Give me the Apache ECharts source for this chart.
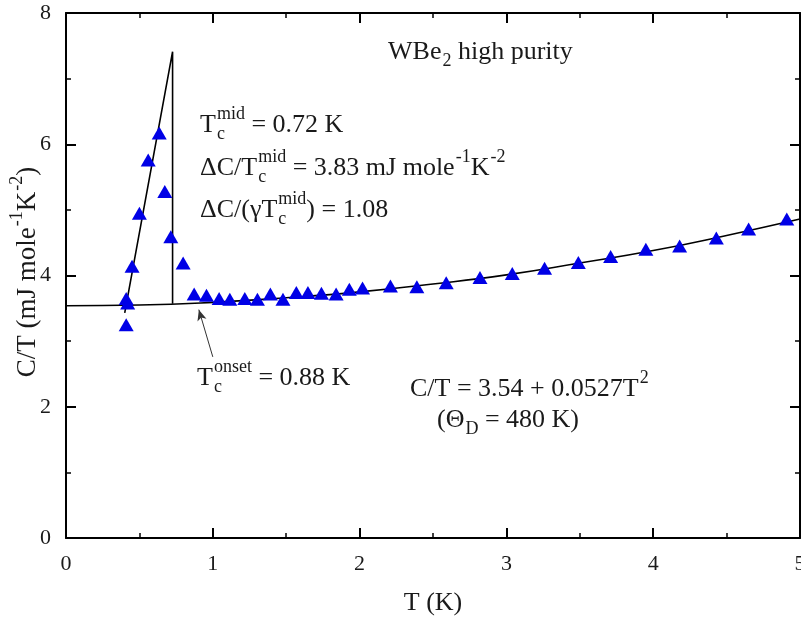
<!DOCTYPE html>
<html><head><meta charset="utf-8">
<script src="https://cdn.jsdelivr.net/npm/echarts@6/dist/echarts.min.js"></script>
<style>html,body{margin:0;padding:0;background:#fff}#c{width:801px;height:619px}</style>
</head><body><div id="c"></div>
<script>
// measured data (T in K, C/T in mJ mole^-1 K^-2)
const T_data = [0.41,0.41,0.42,0.45,0.50,0.56,0.635,0.673,0.714,0.798,0.873,0.957,1.043,1.116,1.218,1.304,1.392,1.478,1.569,1.648,1.74,1.84,1.93,2.02,2.21,2.39,2.59,2.82,3.04,3.26,3.49,3.71,3.95,4.18,4.43,4.65,4.91];
const C_data = [3.25,3.65,3.58,4.14,4.95,5.76,6.17,5.28,4.59,4.19,3.72,3.70,3.65,3.64,3.65,3.64,3.72,3.64,3.74,3.74,3.73,3.72,3.79,3.81,3.84,3.83,3.89,3.97,4.03,4.11,4.20,4.29,4.40,4.45,4.57,4.71,4.86];
// fitted curve
const fitT = [0,0.5,1,1.5,2,2.5,3,3.5,4,4.5,5];
const fitC = [3.54,3.55,3.59,3.66,3.75,3.87,4.01,4.19,4.38,4.61,4.86];
// entropy-conserving construction
const tcT = [0.40,0.726,0.726];
const tcC = [3.43,7.41,3.57];
// onset arrow
const arrowFrom = [1.0,2.76];
const arrowTo = [0.905,3.48];
const xTicks = ['0','1','2','3','4','5'];
const yTicks = ['0','2','4','6','8'];

const FONT = '"Liberation Serif", "Times New Roman", serif';
const COL = '#1a1a1a';
const cv = document.createElement('canvas').getContext('2d');
function tw(t, fs){ cv.font = fs + 'px ' + FONT; return cv.measureText(t).width; }
function mk(t, px, py, size){
  return {type:'text', x:px, y:py, silent:true,
    style:{text:t, font:size + 'px ' + FONT, fill:COL, align:'left', verticalAlign:'middle'}};
}
function richGroup(parts, x, y, fs, ss, opt){
  let cx = 0; const ch = [];
  for (const p of parts){
    if (p.n !== undefined){ ch.push(mk(p.n, cx, 0, fs)); cx += tw(p.n, fs); }
    else {
      let w = 0;
      if (p.sup !== undefined){ ch.push(mk(p.sup, cx + 1, -fs*0.40, ss)); w = Math.max(w, tw(p.sup, ss) + 1); }
      if (p.sub !== undefined){ ch.push(mk(p.sub, cx + 1, fs*0.36, ss)); w = Math.max(w, tw(p.sub, ss) + 1); }
      cx += w;
    }
  }
  const g = {type:'group', x:x, y:y, children:ch, silent:true};
  if (opt && opt.center){ ch.forEach(c => c.x -= cx/2); }
  if (opt && opt.rotation){ g.rotation = opt.rotation; }
  return g;
}

const FS = 26, SS = 18;
const graphics = [
  richGroup([{n:'WBe'},{sub:'2'},{n:' high purity'}], 388, 52, FS, SS),
  richGroup([{n:'T'},{sup:'mid', sub:'c'},{n:' = 0.72 K'}], 200, 125, FS, SS),
  richGroup([{n:'\u0394C/T'},{sup:'mid', sub:'c'},{n:' = 3.83 mJ mole'},{sup:'-1'},{n:'K'},{sup:'-2'}], 200, 168, FS, SS),
  richGroup([{n:'\u0394C/(\u03b3T'},{sup:'mid', sub:'c'},{n:') = 1.08'}], 200, 210, FS, SS),
  richGroup([{n:'T'},{sup:'onset', sub:'c'},{n:' = 0.88 K'}], 197, 378, FS, SS),
  richGroup([{n:'C/T = 3.54 + 0.0527T'},{sup:'2'}], 410, 389, FS, SS),
  richGroup([{n:'(\u0398'},{sub:'D'},{n:' = 480 K)'}], 437, 420, FS, SS),
  richGroup([{n:'C/T (mJ mole'},{sup:'-1'},{n:'K'},{sup:'-2'},{n:')'}], 28, 272, 27, 18, {center:true, rotation:Math.PI/2})
];

const axisCommon = {
  type:'value',
  axisLine:{show:true, onZero:false, lineStyle:{color:'#000', width:2}},
  axisTick:{show:true, inside:true, length:10, lineStyle:{color:'#000', width:2}},
  minorTick:{show:true, splitNumber:2, length:5, lineStyle:{color:'#000', width:1.5}},
  splitLine:{show:false}, minorSplitLine:{show:false}
};

const chart = echarts.init(document.getElementById('c'), null, {renderer:'canvas'});
chart.setOption({
  animation:false,
  backgroundColor:'#fff',
  grid:{left:66, right:1, top:13, bottom:81, containLabel:false, outerBoundsMode:'none'},
  xAxis:[
    Object.assign({}, axisCommon, {min:0, max:5, interval:1, position:'bottom',
      axisLabel:{margin:15, fontSize:22, fontFamily:FONT, color:COL, formatter:v => xTicks[Math.round(v)]},
      name:'T (K)', nameLocation:'middle', nameGap:52,
      nameTextStyle:{fontSize:26, fontFamily:FONT, color:COL}}),
    Object.assign({}, axisCommon, {min:0, max:5, interval:1, position:'top', axisLabel:{show:false}})
  ],
  yAxis:[
    Object.assign({}, axisCommon, {min:0, max:8, interval:2, position:'left',
      axisLabel:{margin:15, fontSize:22, fontFamily:FONT, color:COL, formatter:v => yTicks[Math.round(v/2)]}}),
    Object.assign({}, axisCommon, {min:0, max:8, interval:2, position:'right', axisLabel:{show:false}})
  ],
  series:[
    {type:'line', data:fitT.map((t,i)=>[t, fitC[i]]), smooth:true, showSymbol:false, symbol:'none',
     lineStyle:{color:'#000', width:1.6}, z:2, silent:true,
     markLine:{silent:true, symbol:['none','arrow'], symbolSize:[7,11],
       lineStyle:{color:'#333', width:1, type:'solid'}, label:{show:false},
       data:[[{coord:arrowFrom},{coord:arrowTo}]]}},
    {type:'line', data:tcT.map((t,i)=>[t, tcC[i]]), showSymbol:false, symbol:'none',
     lineStyle:{color:'#000', width:1.6}, z:2, silent:true},
    {type:'scatter', data:T_data.map((t,i)=>[t, C_data[i]]), symbol:'triangle', symbolSize:[15,13],
     itemStyle:{color:'#0000e6', opacity:1}, z:3, silent:true}
  ],
  graphic:graphics
});
</script>
</body></html>
